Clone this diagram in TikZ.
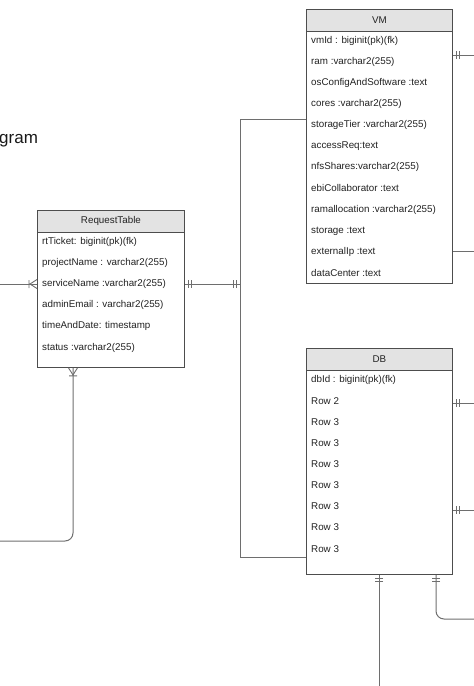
\documentclass[tikz,border=0pt]{standalone}
\usepackage{fontspec}
\setmainfont{Liberation Sans}
\definecolor{boxline}{HTML}{4D4D4D}
\definecolor{connline}{HTML}{6E6E6E}
\definecolor{headfill}{HTML}{E3E3E3}
\definecolor{txt}{HTML}{222222}
\begin{document}
\begin{tikzpicture}[x=1pt,y=-1pt,
  entity/.style={draw=boxline,line width=0.9pt,fill=white,anchor=north west,inner sep=0pt},
  headbar/.style={draw=boxline,line width=0.9pt,fill=headfill,anchor=north west,inner sep=0pt,minimum height=22pt,font=\fontsize{9.8}{12}\selectfont,text=txt},
  row/.style={anchor=west,inner sep=0pt,font=\fontsize{9.8}{12}\selectfont,text=txt},
  conn/.style={draw=connline,line width=1pt},
  mk/.style={draw=connline,line width=0.9pt},
  mandone/.pic={\draw[mk] (4,-4) -- (4,4) (7,-4) -- (7,4);},
  onemany/.pic={\draw[mk] (0,-4.5) -- (7,0) -- (0,4.5) (8,-4) -- (8,4);}
]
\useasboundingbox (0,0) rectangle (474,686);

% title fragment
\node[anchor=west,inner sep=0pt,font=\fontsize{17}{20}\selectfont,text=black!90] (title) at (-1,141) {gram};

% RequestTable
\node[entity,minimum width=147pt,minimum height=157pt] (rt) at (37,210) {};
\node[headbar,minimum width=147pt] (rth) at (37,210) {RequestTable};
\node[row] (rt1) at (42,242) {rtTicket: biginit(pk)(fk)};
\node[row] (rt2) at (42,263) {projectName : varchar2(255)};
\node[row] (rt3) at (42,284) {serviceName :varchar2(255)};
\node[row] (rt4) at (42,305) {adminEmail : varchar2(255)};
\node[row] (rt5) at (42,326) {timeAndDate: timestamp};
\node[row] (rt6) at (42,348) {status :varchar2(255)};

% VM
\node[entity,minimum width=146pt,minimum height=274pt] (vm) at (306,9) {};
\node[headbar,minimum width=146pt] (vmh) at (306,9) {VM};
\node[row] (vm1) at (311,41) {vmId : biginit(pk)(fk)};
\node[row] (vm2) at (311,62) {ram :varchar2(255)};
\node[row] (vm3) at (311,83) {osConfigAndSoftware :text};
\node[row] (vm4) at (311,104) {cores :varchar2(255)};
\node[row] (vm5) at (311,125) {storageTier :varchar2(255)};
\node[row] (vm6) at (311,146) {accessReq:text};
\node[row] (vm7) at (311,167) {nfsShares:varchar2(255)};
\node[row] (vm8) at (311,188) {ebiCollaborator :text};
\node[row] (vm9) at (311,210) {ramallocation :varchar2(255)};
\node[row] (vm10) at (311,231) {storage :text};
\node[row] (vm11) at (311,252) {externalIp :text};
\node[row] (vm12) at (311,273) {dataCenter :text};

% DB
\node[entity,minimum width=146pt,minimum height=226pt] (db) at (306,348) {};
\node[headbar,minimum width=146pt] (dbh) at (306,348) {DB};
\node[row] (db1) at (311,380) {dbId : biginit(pk)(fk)};
\node[row] (db2) at (311,401) {Row 2};
\node[row] (db3) at (311,422) {Row 3};
\node[row] (db4) at (311,443) {Row 3};
\node[row] (db5) at (311,464) {Row 3};
\node[row] (db6) at (311,485) {Row 3};
\node[row] (db7) at (311,506) {Row 3};
\node[row] (db8) at (311,527) {Row 3};
\node[row] (db9) at (311,549) {Row 3};

% free ends and bends
\coordinate (lin) at (0,284);
\coordinate (bus) at (240,284);
\coordinate (vmj) at (240,119);
\coordinate (dbj) at (240,557);
\coordinate (r1) at (474,55);
\coordinate (r2) at (474,251);
\coordinate (r3) at (474,403);
\coordinate (r4) at (474,510);
\coordinate (b1) at (379,686);
\coordinate (b2c) at (436,619);
\coordinate (b2) at (474,619);
\coordinate (l1c) at (73,541);
\coordinate (l1) at (0,541);

% connectors
\draw[conn] (lin) -- (lin -| rt.west);
\pic[rotate=180] at (lin -| rt.west) {onemany};

\draw[conn] (rt.east |- bus) -- (bus);
\pic at (rt.east |- bus) {mandone};
\pic[rotate=180] at (bus) {mandone};
\draw[conn] (vm.west |- vmj) -- (vmj) -- (dbj) -- (db.west |- dbj);

\draw[conn] (vm.east |- r1) -- (r1);
\pic at (vm.east |- r1) {mandone};
\draw[conn] (vm.east |- r2) -- (r2);

\draw[conn] (db.east |- r3) -- (r3);
\pic at (db.east |- r3) {mandone};
\draw[conn] (db.east |- r4) -- (r4);
\pic at (db.east |- r4) {mandone};

\draw[conn] (db.south -| b1) -- (b1);
\pic[rotate=-90] at (db.south -| b1) {mandone};
\draw[conn,rounded corners=8pt] (db.south -| b2c) |- (b2);
\pic[rotate=-90] at (db.south -| b2c) {mandone};

\draw[conn,rounded corners=8pt] (rt.south -| l1c) |- (l1);
\pic[rotate=-90] at (rt.south -| l1c) {onemany};
\end{tikzpicture}
\end{document}
